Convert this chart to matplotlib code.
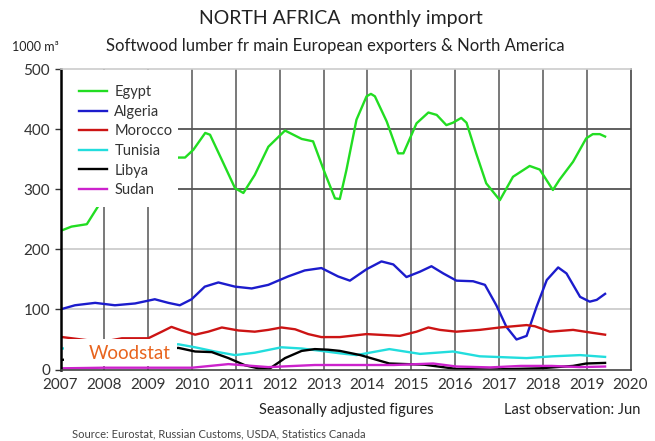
import matplotlib.pyplot as plt
from matplotlib.patches import Rectangle

plt.rcParams['font.family'] = ['Lato', 'DejaVu Sans']

# === Data (decimal year, 1000 m3) ===
egypt_x = [2007.04, 2007.25, 2007.6, 2007.85, 2008.3, 2008.9, 2009.4, 2009.69, 2009.84,
           2010.03, 2010.3, 2010.41, 2010.68, 2010.98, 2011.17, 2011.43, 2011.74, 2012.12,
           2012.5, 2012.76, 2013.03, 2013.26, 2013.37, 2013.52, 2013.75, 2013.98, 2014.08,
           2014.17, 2014.44, 2014.7, 2014.82, 2015.12, 2015.39, 2015.58, 2015.8, 2015.95,
           2016.14, 2016.26, 2016.48, 2016.71, 2017.02, 2017.32, 2017.7, 2017.93, 2018.23,
           2018.38, 2018.69, 2018.99, 2019.14, 2019.3, 2019.42]
egypt_y = [232, 238, 242, 271, 310, 335, 348, 353, 353,
           366, 394, 391, 349, 302, 294, 324, 371, 398,
           384, 380, 327, 285, 284, 332, 416, 455, 459,
           455, 413, 360, 360, 410, 428, 424, 407, 411,
           419, 411, 360, 310, 282, 321, 339, 333, 299,
           316, 346, 385, 392, 392, 388]

algeria_x = [2007.04, 2007.33, 2007.79, 2008.24, 2008.7, 2009.15, 2009.46, 2009.72, 2009.99,
             2010.29, 2010.6, 2010.98, 2011.36, 2011.74, 2012.19, 2012.57, 2012.95, 2013.33,
             2013.6, 2013.98, 2014.32, 2014.59, 2014.89, 2015.2, 2015.46, 2015.73, 2016.03,
             2016.41, 2016.68, 2016.94, 2017.17, 2017.4, 2017.63, 2017.86, 2018.09, 2018.35,
             2018.54, 2018.85, 2019.07, 2019.23, 2019.42]
algeria_y = [101, 107, 111, 107, 110, 117, 111, 107, 117,
             138, 145, 138, 135, 141, 155, 165, 169, 155,
             148, 167, 180, 175, 154, 163, 172, 160, 148,
             147, 141, 107, 71, 50, 56, 105, 149, 170,
             160, 121, 113, 116, 126]

morocco_x = [2007.04, 2007.48, 2007.8, 2008.1, 2008.4, 2008.7, 2009.0, 2009.31, 2009.53,
             2009.76, 2010.07, 2010.37, 2010.68, 2011.06, 2011.43, 2011.74, 2012.04, 2012.35,
             2012.65, 2012.95, 2013.37, 2013.98, 2014.74, 2015.12, 2015.39, 2015.65, 2016.03,
             2016.56, 2017.02, 2017.63, 2017.82, 2018.16, 2018.69, 2019.14, 2019.42]
morocco_y = [54, 50, 47, 48, 52, 52, 52, 63, 71,
             65, 58, 63, 70, 65, 63, 66, 70, 67,
             59, 54, 54, 59, 56, 63, 70, 66, 63,
             66, 70, 74, 72, 63, 66, 61, 58]

tunisia_x = [2007.04, 2008.0, 2009.0, 2009.69, 2010.07, 2010.52, 2010.98, 2011.43, 2012.04,
             2012.5, 2012.95, 2013.37, 2013.75, 2014.5, 2015.2, 2015.95, 2016.56, 2017.63,
             2018.23, 2018.85, 2019.42]
tunisia_y = [35, 38, 40, 42, 37, 30, 24, 28, 37,
             35, 31, 27, 24, 34, 26, 30, 22, 19,
             22, 24, 21]

libya_x = [2007.04, 2008.0, 2009.0, 2009.69, 2010.07, 2010.45, 2010.83, 2011.21, 2011.51,
           2011.78, 2012.12, 2012.5, 2012.8, 2013.1, 2013.37, 2013.84, 2014.5, 2015.3,
           2016.03, 2016.8, 2017.93, 2018.69, 2018.99, 2019.42]
libya_y = [16, 25, 33, 36, 30, 29, 19, 7, 2,
           2, 19, 31, 34, 33, 31, 24, 10, 8,
           1, 0, 2, 6, 10, 11]

sudan_x = [2007.04, 2008.0, 2009.0, 2010.0, 2010.83, 2011.74, 2012.8, 2013.7, 2014.6,
           2015.5, 2016.03, 2016.8, 2017.5, 2018.2, 2018.85, 2019.42]
sudan_y = [2, 3, 3, 3, 9, 4, 7.5, 7.5, 7.5,
           10, 5, 3.5, 6, 6, 4, 5]

series = [
    ("Egypt", egypt_x, egypt_y, "#22dd22"),
    ("Algeria", algeria_x, algeria_y, "#1c1ccc"),
    ("Morocco", morocco_x, morocco_y, "#cc1414"),
    ("Tunisia", tunisia_x, tunisia_y, "#22dddd"),
    ("Libya", libya_x, libya_y, "#000000"),
    ("Sudan", sudan_x, sudan_y, "#cc22cc"),
]
years = list(range(2007, 2021))
yticks = [0, 100, 200, 300, 400, 500]

# === Plot ===
fig = plt.figure(figsize=(6.55, 4.41), dpi=100)
ax = fig.add_axes([0.0924, 0.1621, 0.8702, 0.6808])

# grid
for yv in [100, 200]:
    ax.axhline(yv, color="#c8c8c8", lw=1.2, zorder=1)
for yv in [300, 400]:
    ax.axhline(yv, color="#444444", lw=1.2, zorder=1)
for xv in years[1:-1]:
    ax.axvline(xv, color="#555555", lw=1.1, zorder=1)

for name, xs, ys, col in series:
    ax.plot(xs, ys, color=col, lw=1.7, label=name, zorder=2,
            solid_joinstyle="round")

# white boxes for legend and logo
ax.add_patch(Rectangle((0.003, 0.54), 0.203, 0.457, transform=ax.transAxes,
                       facecolor="white", edgecolor="none", zorder=3))
ax.add_patch(Rectangle((2007.08, 6), 2.57, 44, facecolor="white",
                       edgecolor="none", zorder=3))
ax.text(2008.57, 26, "Woodstat", color="#e8641e", fontsize=13.5, ha="center",
        va="center", zorder=4)

leg = ax.legend(loc="upper left", bbox_to_anchor=(0.01, 0.99), frameon=False,
                fontsize=10.5, handlelength=1.9, handletextpad=0.5, labelspacing=0.38)
leg.set_zorder(5)
for txt in leg.get_texts():
    txt.set_color("#333333")

ax.set_xlim(2007, 2020)
ax.set_ylim(0, 500)
ax.set_xticks(years)
ax.set_yticks(yticks)
ax.tick_params(axis="both", labelsize=11, colors="#333333", length=4, width=1)
ax.tick_params(axis="x", length=0, pad=6)

for side in ["left", "bottom", "right", "top"]:
    ax.spines[side].set_zorder(6)
ax.spines["left"].set_color("black")
ax.spines["left"].set_linewidth(1.8)
ax.spines["bottom"].set_color("#444444")
ax.spines["bottom"].set_linewidth(1.2)
ax.spines["right"].set_color("#444444")
ax.spines["right"].set_linewidth(1.2)
ax.spines["top"].set_color("#cccccc")
ax.spines["top"].set_linewidth(1.2)

# texts
fig.text(0.52, 0.958, "NORTH AFRICA  monthly import", ha="center", va="center",
         fontsize=14, color="#222222")
fig.text(0.512, 0.896, "Softwood lumber fr main European exporters & North America",
         ha="center", va="center", fontsize=12, color="#222222")
fig.text(0.018, 0.893, "1000 m³", ha="left", va="center", fontsize=9, color="#222222")
fig.text(0.528, 0.07, "Seasonally adjusted figures", ha="center", va="center",
         fontsize=10.5, color="#222222")
fig.text(0.977, 0.07, "Last observation: Jun", ha="right", va="center",
         fontsize=10.5, color="#222222")
fig.text(0.11, 0.016, "Source: Eurostat, Russian Customs, USDA, Statistics Canada",
         ha="left", va="center", fontsize=8, color="#444444")

plt.savefig("out.png", dpi=100)
